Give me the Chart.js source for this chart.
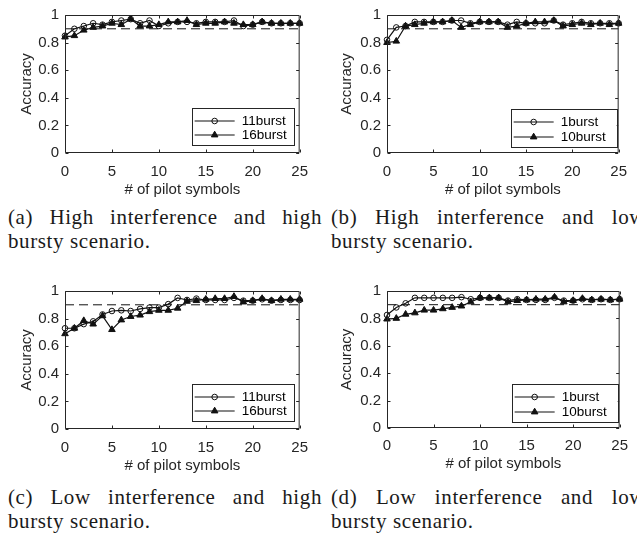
<!DOCTYPE html>
<html><head><meta charset="utf-8">
<script src="https://cdn.jsdelivr.net/npm/chart.js@4.4.0/dist/chart.umd.min.js"></script>
<style>
html,body{margin:0;padding:0;background:#fff;width:637px;height:534px;overflow:hidden;position:relative}
canvas{position:absolute}
.cap{position:absolute;font-family:'Liberation Serif','Times New Roman',serif;font-size:21px;line-height:24px;color:#1a1a1a;white-space:nowrap;letter-spacing:0.6px}
.j{width:314px;text-align:justify;text-align-last:justify;white-space:normal}
</style></head><body>
<canvas id="cA" width="318" height="200" style="left:0;top:0"></canvas>
<canvas id="cB" width="317" height="200" style="left:320px;top:0"></canvas>
<canvas id="cC" width="318" height="200" style="left:0;top:276px"></canvas>
<canvas id="cD" width="317" height="200" style="left:320px;top:276px"></canvas>

<div class="cap j" style="left:8px;top:205px">(a) High interference and high</div>
<div class="cap" style="left:8px;top:229px">bursty scenario.</div>
<div class="cap j" style="left:331px;top:205px">(b) High interference and low</div>
<div class="cap" style="left:331px;top:229px">bursty scenario.</div>
<div class="cap j" style="left:8px;top:485px">(c) Low interference and high</div>
<div class="cap" style="left:8px;top:509px">bursty scenario.</div>
<div class="cap j" style="left:331px;top:485px">(d) Low interference and low</div>
<div class="cap" style="left:331px;top:509px">bursty scenario.</div>

<script>
// ---------------- data ----------------
const pilotSymbols = [0,1,2,3,4,5,6,7,8,9,10,11,12,13,14,15,16,17,18,19,20,21,22,23,24,25];
const xTickValues = [0,5,10,15,20,25];
const yTickValues = [0,0.2,0.4,0.6,0.8,1];
const threshold = 0.9;

const namesHighBurst = ['11burst','16burst'];
const namesLowBurst = ['1burst','10burst'];

// (a) High interference, high bursty
const accA11 = [0.85,0.90,0.92,0.94,0.93,0.95,0.96,0.97,0.94,0.96,0.92,0.94,0.95,0.95,0.94,0.95,0.95,0.95,0.96,0.92,0.93,0.95,0.94,0.94,0.94,0.94];
const accA16 = [0.84,0.85,0.89,0.91,0.92,0.94,0.93,0.97,0.92,0.92,0.93,0.95,0.95,0.96,0.93,0.94,0.94,0.95,0.94,0.93,0.93,0.95,0.94,0.94,0.94,0.94];
// (b) High interference, low bursty
const accB1  = [0.82,0.91,0.92,0.95,0.95,0.95,0.95,0.96,0.96,0.94,0.95,0.95,0.95,0.93,0.95,0.94,0.94,0.94,0.96,0.93,0.94,0.95,0.94,0.94,0.94,0.94];
const accB10 = [0.80,0.81,0.92,0.93,0.94,0.95,0.95,0.96,0.91,0.93,0.95,0.95,0.95,0.91,0.92,0.94,0.95,0.95,0.96,0.92,0.93,0.94,0.93,0.94,0.93,0.94];
// (c) Low interference, high bursty
const accC11 = [0.73,0.73,0.76,0.78,0.83,0.855,0.86,0.855,0.87,0.88,0.88,0.905,0.95,0.935,0.945,0.935,0.935,0.935,0.95,0.93,0.93,0.94,0.93,0.935,0.935,0.935];
const accC16 = [0.69,0.73,0.785,0.76,0.82,0.72,0.79,0.815,0.825,0.85,0.86,0.86,0.875,0.925,0.93,0.94,0.945,0.945,0.96,0.92,0.93,0.945,0.93,0.94,0.94,0.94];
// (d) Low interference, low bursty
const accD1  = [0.825,0.88,0.91,0.95,0.95,0.95,0.95,0.95,0.955,0.94,0.95,0.95,0.95,0.93,0.94,0.935,0.935,0.935,0.95,0.93,0.93,0.94,0.935,0.94,0.935,0.94];
const accD10 = [0.795,0.80,0.83,0.84,0.86,0.86,0.87,0.88,0.89,0.92,0.95,0.95,0.95,0.92,0.93,0.935,0.94,0.94,0.955,0.92,0.93,0.945,0.935,0.94,0.935,0.94];

// ---------------- styling ----------------
const AXIS_COLOR = '#262626';
const LINE_COLOR = '#111';
const SANS = "'Liberation Sans', Arial, Helvetica, sans-serif";

const matlabBox = {
  id: 'matlabBox',
  afterDraw(chart, args, opts) {
    const {ctx, chartArea: a, scales: {x, y}} = chart;
    ctx.save();
    ctx.strokeStyle = AXIS_COLOR;
    ctx.lineWidth = 1;
    const L = a.left + 0.5, R = a.right - 0.5, T = a.top + 0.5, B = a.bottom - 0.5;
    ctx.beginPath();
    ctx.rect(L, T, R - L, B - T);
    // inward ticks on all four sides
    const tl = 3;
    xTickValues.forEach(v => {
      const px = Math.round(x.getPixelForValue(v)) + 0.5;
      ctx.moveTo(px, B); ctx.lineTo(px, B - tl);
      ctx.moveTo(px, T); ctx.lineTo(px, T + tl);
    });
    yTickValues.forEach(v => {
      const py = Math.round(y.getPixelForValue(v)) + 0.5;
      ctx.moveTo(L, py); ctx.lineTo(L + tl, py);
      ctx.moveTo(R, py); ctx.lineTo(R - tl, py);
    });
    ctx.stroke();

    // legend box
    const lg = opts.legend;
    const bx = a.right - lg.rightGap - lg.w, by = a.bottom - lg.bottomGap - lg.h;
    ctx.fillStyle = '#fff';
    ctx.fillRect(bx, by, lg.w, lg.h);
    ctx.strokeStyle = AXIS_COLOR;
    ctx.lineWidth = 1;
    ctx.strokeRect(Math.round(bx) + 0.5, Math.round(by) + 0.5, lg.w, lg.h);
    const items = chart.data.datasets.filter(d => d.inLegend);
    items.forEach((d, i) => {
      const cy = by + lg.rows[i];
      const x0 = bx + 3, x1 = bx + 43, cx = (x0 + x1) / 2;
      ctx.strokeStyle = LINE_COLOR; ctx.lineWidth = 1.2;
      ctx.beginPath(); ctx.moveTo(x0, cy); ctx.lineTo(x1, cy); ctx.stroke();
      ctx.fillStyle = d.pointBackgroundColor;
      ctx.strokeStyle = LINE_COLOR; ctx.lineWidth = 1;
      Chart.helpers.drawPoint(ctx, {pointStyle: d.pointStyle, radius: d.pointRadius, rotation: 0, borderWidth: 1}, cx, cy);
      ctx.fillStyle = '#000';
      ctx.font = '13.5px ' + SANS;
      ctx.textBaseline = 'middle';
      ctx.textAlign = 'left';
      ctx.fillText(d.label, bx + 50, cy + 0.5);
    });
    ctx.restore();
  }
};

function xy(values) { return pilotSymbols.map((p, i) => ({x: p, y: values[i]})); }

function makeChart(id, s1, s2, names, L) {
  const datasets = [
    {label: 'threshold', data: [{x: pilotSymbols[0], y: threshold}, {x: pilotSymbols[pilotSymbols.length - 1], y: threshold}],
     borderColor: LINE_COLOR, borderWidth: 1, borderDash: [9, 5], pointRadius: 0, inLegend: false},
    {label: names[0], data: xy(s1), borderColor: LINE_COLOR, borderWidth: 1.2,
     pointStyle: 'circle', pointRadius: 2.8, pointBorderWidth: 1, pointBorderColor: LINE_COLOR,
     pointBackgroundColor: 'rgba(255,255,255,0)', inLegend: true, clip: false},
    {label: names[1], data: xy(s2), borderColor: LINE_COLOR, borderWidth: 1.2,
     pointStyle: 'triangle', pointRadius: 3.8, pointBorderWidth: 1, pointBorderColor: LINE_COLOR,
     pointBackgroundColor: LINE_COLOR, inLegend: true, clip: false}
  ];
  return new Chart(document.getElementById(id), {
    type: 'line',
    data: {datasets},
    plugins: [matlabBox],
    options: {
      responsive: false,
      animation: false,
      events: [],
      layout: {padding: {top: L.padTop, right: L.padRight, left: 0, bottom: 0}},
      elements: {line: {tension: 0}},
      plugins: {
        legend: {display: false},
        tooltip: {enabled: false},
        matlabBox: {legend: L.legend}
      },
      scales: {
        x: {
          type: 'linear', min: 0, max: 25,
          afterBuildTicks: s => { s.ticks = xTickValues.map(v => ({value: v})); },
          afterFit: s => { s.height = L.xAxisHeight; },
          grid: {display: false, drawTicks: false},
          border: {display: false},
          ticks: {color: AXIS_COLOR, font: {family: SANS, size: 15}, padding: L.xTickPad, maxRotation: 0, autoSkip: false},
          title: {display: true, text: '# of pilot symbols', color: AXIS_COLOR, font: {family: SANS, size: 15}, padding: {top: 0, bottom: L.xTitlePad}}
        },
        y: {
          type: 'linear', min: 0, max: 1,
          afterBuildTicks: s => { s.ticks = yTickValues.map(v => ({value: v})); },
          afterFit: s => { s.width = L.yAxisWidth; },
          grid: {display: false, drawTicks: false},
          border: {display: false},
          ticks: {color: AXIS_COLOR, font: {family: SANS, size: 15}, padding: 6, autoSkip: false, callback: v => String(v)},
          title: {display: true, text: 'Accuracy', color: AXIS_COLOR, font: {family: SANS, size: 15}, padding: {top: L.yTitlePad, bottom: 0}}
        }
      }
    }
  });
}

const legendLeft = {rightGap: 6, bottomGap: 8, w: 102, h: 37, rows: [13, 27]};
const legendRight = {rightGap: 2, bottomGap: 6, w: 106, h: 38, rows: [13, 28]};

makeChart('cA', accA11, accA16, namesHighBurst,
  {padTop: 12, padRight: 15, yAxisWidth: 65, xAxisHeight: 47, xTickPad: 10, xTitlePad: 1, yTitlePad: 18, legend: legendLeft});
makeChart('cB', accB1, accB10, namesLowBurst,
  {padTop: 7, padRight: 7, yAxisWidth: 67, xAxisHeight: 47, xTickPad: 10, xTitlePad: 1, yTitlePad: 18, legend: legendRight});
makeChart('cC', accC11, accC16, namesHighBurst,
  {padTop: 13, padRight: 15, yAxisWidth: 65, xAxisHeight: 47, xTickPad: 10, xTitlePad: 1, yTitlePad: 18, legend: legendLeft});
makeChart('cD', accD1, accD10, namesLowBurst,
  {padTop: 9, padRight: 7, yAxisWidth: 67, xAxisHeight: 48, xTickPad: 9, xTitlePad: 3, yTitlePad: 18, legend: legendRight});
</script>
</body></html>
